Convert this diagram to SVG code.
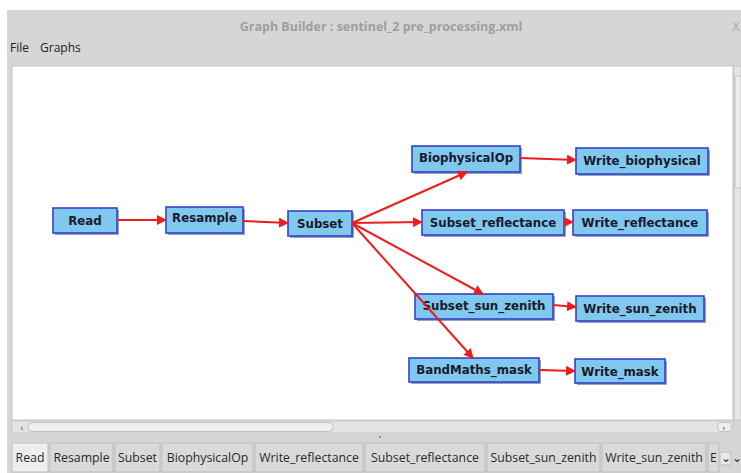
<svg xmlns="http://www.w3.org/2000/svg" width="741" height="473" viewBox="0 0 741 473">
<defs>
<style>
.nb{fill:#80c8ee;stroke:#3343c8;stroke-width:1.6}
.ns{fill:#6a7ea6;opacity:0.7}
.nt{font-family:"DejaVu Sans",sans-serif;font-weight:bold;font-size:11.8px;fill:#1a1a2a;text-anchor:middle}
.e{stroke:#ee1c1c;stroke-width:2;fill:none;marker-end:url(#ah)}
.tab{fill:#dadada;stroke:#bdbdbd;stroke-width:1}
.tt{font-family:"Open Sans",sans-serif;font-size:12.3px;fill:#2a2a2a;text-anchor:middle}
</style>
<marker id="ah" viewBox="0 0 10 10" refX="9" refY="5" markerWidth="5" markerHeight="5" orient="auto" markerUnits="strokeWidth">
<path d="M0,0 L10,5 L0,10 Z" fill="#ee1c1c"/>
</marker>
</defs>
<rect x="0" y="0" width="741" height="473" fill="#ffffff"/>
<rect x="7" y="10" width="734" height="463" fill="#d6d6d6"/>
<text x="381" y="31" font-family="Open Sans, sans-serif" font-weight="bold" font-size="12.5px" fill="#9e9e9e" text-anchor="middle">Graph Builder : sentinel_2 pre_processing.xml</text>
<text x="736" y="31" font-family="Open Sans, sans-serif" font-size="12px" fill="#aaa" text-anchor="middle">X</text>
<text x="10" y="52" font-family="Open Sans, sans-serif" font-size="12px" fill="#222">File</text>
<text x="40" y="52" font-family="Open Sans, sans-serif" font-size="12px" fill="#222">Graphs</text>
<rect x="12" y="66" width="721" height="354" fill="#ffffff" stroke="#c4c4c4" stroke-width="1"/>
<rect x="734" y="66" width="7" height="354" fill="#e6e6e6" stroke="#c0c0c0" stroke-width="0.8"/>
<rect x="735" y="76" width="6" height="112" rx="2" fill="#efefef" stroke="#b8b8b8" stroke-width="0.8"/>
<rect x="12" y="421" width="721" height="12" fill="#e4e4e4" stroke="#c6c6c6" stroke-width="0.8"/>
<rect x="28" y="422.5" width="305" height="9" rx="4" fill="#efefef" stroke="#b5b5b5" stroke-width="0.8"/>
<text x="20" y="431" font-family="DejaVu Sans, sans-serif" font-size="9px" fill="#555">‹</text>
<rect x="718" y="422.5" width="13" height="9" rx="2" fill="#efefef" stroke="#b5b5b5" stroke-width="0.8"/>
<text x="722" y="431" font-family="DejaVu Sans, sans-serif" font-size="9px" fill="#555">›</text>
<rect x="379" y="436" width="1.5" height="2" fill="#777"/>

<g id="node-read"><rect class="ns" x="55" y="210" width="64" height="25"/><rect class="nb" x="53" y="208" width="64" height="25"/><text class="nt" x="85" y="225">Read</text></g>
<g id="node-resample"><rect class="ns" x="168" y="209" width="77" height="26"/><rect class="nb" x="166" y="207" width="77" height="26"/><text class="nt" x="204.5" y="222">Resample</text></g>
<g id="node-subset"><rect class="ns" x="290" y="213" width="64" height="25"/><rect class="nb" x="288" y="211" width="64" height="25"/><text class="nt" x="320" y="228">Subset</text></g>
<g id="node-biophysicalop"><rect class="ns" x="414" y="148" width="108" height="26"/><rect class="nb" x="412" y="146" width="108" height="26"/><text class="nt" x="466" y="162">BiophysicalOp</text></g>
<g id="node-write-biophysical"><rect class="ns" x="578" y="150" width="132" height="26"/><rect class="nb" x="576" y="148" width="132" height="26"/><text class="nt" x="642" y="165">Write_biophysical</text></g>
<g id="node-subset-reflectance"><rect class="ns" x="424" y="212" width="142" height="25"/><rect class="nb" x="422" y="210" width="142" height="25"/><text class="nt" x="493" y="227">Subset_reflectance</text></g>
<g id="node-write-reflectance"><rect class="ns" x="575" y="212" width="134" height="25"/><rect class="nb" x="573" y="210" width="134" height="25"/><text class="nt" x="640" y="227">Write_reflectance</text></g>
<g id="node-subset-sun-zenith"><rect class="ns" x="417" y="296" width="138" height="25"/><rect class="nb" x="415" y="294" width="138" height="25"/><text class="nt" x="484" y="310">Subset_sun_zenith</text></g>
<g id="node-write-sun-zenith"><rect class="ns" x="578" y="298" width="128" height="25"/><rect class="nb" x="576" y="296" width="128" height="25"/><text class="nt" x="640" y="313">Write_sun_zenith</text></g>
<g id="node-bandmaths-mask"><rect class="ns" x="411" y="360" width="130" height="24"/><rect class="nb" x="409" y="358" width="130" height="24"/><text class="nt" x="474" y="374">BandMaths_mask</text></g>
<g id="node-write-mask"><rect class="ns" x="577" y="361" width="90" height="24"/><rect class="nb" x="575" y="359" width="90" height="24"/><text class="nt" x="620" y="376">Write_mask</text></g>

<g id="connectors">
<line class="e" x1="117" y1="220" x2="166" y2="220"/>
<line class="e" x1="243" y1="221" x2="288" y2="223"/>
<line class="e" x1="352" y1="223" x2="467" y2="172"/>
<line class="e" x1="352" y1="223" x2="422" y2="222"/>
<line class="e" x1="352" y1="223" x2="483" y2="294"/>
<line class="e" x1="352" y1="223" x2="473" y2="358"/>
<line class="e" x1="520" y1="158" x2="576" y2="160"/>
<line class="e" x1="564" y1="222" x2="573" y2="222"/>
<line class="e" x1="553" y1="305" x2="576" y2="307"/>
<line class="e" x1="539" y1="370" x2="575" y2="371"/>
</g>

<g id="tabs">
<rect x="12" y="443" width="36" height="29" fill="#eeeeee" stroke="#bdbdbd"/><text class="tt" x="30" y="462">Read</text>
<rect class="tab" x="50" y="443" width="63" height="29"/><text class="tt" x="81.5" y="462">Resample</text>
<rect class="tab" x="115" y="443" width="45" height="29"/><text class="tt" x="137.5" y="462">Subset</text>
<rect class="tab" x="162" y="443" width="91" height="29"/><text class="tt" x="207.5" y="462">BiophysicalOp</text>
<rect class="tab" x="255" y="443" width="108" height="29"/><text class="tt" x="309" y="462">Write_reflectance</text>
<rect class="tab" x="365" y="443" width="120" height="29"/><text class="tt" x="425" y="462">Subset_reflectance</text>
<rect class="tab" x="487" y="443" width="113" height="29"/><text class="tt" x="543.5" y="462">Subset_sun_zenith</text>
<rect class="tab" x="602" y="443" width="104" height="29"/><text class="tt" x="654" y="462">Write_sun_zenith</text>
<rect class="tab" x="708" y="443" width="11" height="29"/><text class="tt" x="713.5" y="462">E</text>
<rect x="720" y="452" width="11" height="13" rx="2" fill="#e8e8e8" stroke="#bdbdbd"/><text class="tt" x="725.5" y="462" font-size="9px">⌄</text>
<text class="tt" x="737" y="462" font-size="9px">⌄</text>
</g>
</svg>
